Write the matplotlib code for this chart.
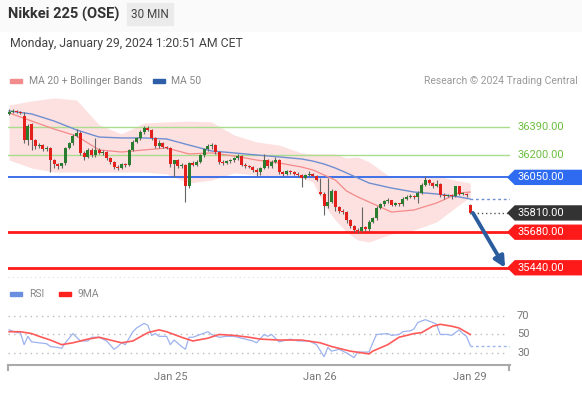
"""
Nikkei 225 (OSE) 30 min chart, Trading Central style: candles, MA/Bollinger, key levels, RSI.
"""

import matplotlib

matplotlib.use("Agg")
import matplotlib.pyplot as plt
import numpy as np
from matplotlib import transforms
from matplotlib.lines import Line2D
from matplotlib.patches import Polygon, Rectangle

plt.rcParams["font.family"] = ["Roboto", "DejaVu Sans"]

# --- data ---
opens = [36480, 36490, 36500, 36490, 36465, 36300, 36410, 36300, 36260, 36270,
         36240, 36250, 36165, 36140, 36125, 36145, 36250, 36280, 36330, 36350,
         36215, 36190, 36235, 36200, 36235, 36215, 36220, 36180, 36155, 36120,
         36115, 36140, 36135, 36235, 36290, 36315, 36355, 36385, 36370, 36315,
         36260, 36280, 36255, 36250, 36140, 36165, 36125, 36135, 35990, 36145,
         36135, 36155, 36200, 36240, 36260, 36270, 36220, 36155, 36145, 36160,
         36165, 36180, 36195, 36135, 36125, 36120, 36100, 36085, 36115, 36165,
         36125, 36155, 36165, 36085, 36075, 36095, 36085, 36075, 36065, 36045,
         36065, 36075, 36060, 35950, 35940, 35855, 35885, 35960, 35850, 35825,
         35815, 35760, 35720, 35695, 35690, 35715, 35700, 35750, 35775, 35845,
         35870, 35890, 35895, 35865, 35875, 35870, 35905, 35920, 35925, 35920,
         35945, 36000, 36030, 36010, 35990, 36005, 35930, 35925, 35930, 35925,
         35990, 35940, 35940, 35865]
highs = [36510, 36510, 36505, 36500, 36490, 36410, 36420, 36310, 36285, 36275,
         36260, 36255, 36175, 36150, 36150, 36255, 36290, 36345, 36375, 36360,
         36225, 36245, 36245, 36315, 36245, 36235, 36225, 36190, 36160, 36135,
         36150, 36150, 36240, 36300, 36325, 36370, 36395, 36395, 36375, 36325,
         36300, 36290, 36260, 36255, 36170, 36175, 36150, 36140, 36155, 36160,
         36165, 36210, 36250, 36275, 36285, 36275, 36230, 36170, 36170, 36175,
         36190, 36205, 36200, 36145, 36135, 36125, 36110, 36120, 36205, 36175,
         36165, 36185, 36175, 36095, 36100, 36100, 36095, 36085, 36070, 36075,
         36090, 36080, 36065, 36045, 35950, 36045, 35970, 35965, 35860, 35835,
         35820, 35770, 35730, 35705, 35850, 35725, 35760, 35785, 35855, 35880,
         35900, 35910, 35900, 35885, 35880, 35915, 35930, 35935, 35930, 35955,
         36010, 36060, 36040, 36020, 36030, 36010, 35945, 35940, 35935, 35995,
         35995, 35950, 35945, 35870]
lows = [36470, 36485, 36485, 36475, 36280, 36270, 36235, 36240, 36250, 36230,
        36230, 36085, 36110, 36105, 36110, 36135, 36240, 36270, 36320, 36200,
        36170, 36180, 36190, 36190, 36205, 36200, 36170, 36140, 36105, 36100,
        36105, 36120, 36125, 36225, 36280, 36305, 36345, 36360, 36300, 36250,
        36250, 36245, 36240, 36120, 36050, 36110, 36115, 35885, 35980, 36125,
        36125, 36145, 36190, 36230, 36240, 36210, 36140, 36135, 36140, 36150,
        36155, 36170, 36125, 36115, 36110, 36085, 36060, 36065, 36105, 36115,
        36115, 36145, 36070, 36060, 36065, 36075, 36065, 36055, 35985, 36040,
        36060, 36050, 36025, 35930, 35795, 35845, 35875, 35820, 35810, 35805,
        35745, 35705, 35680, 35675, 35680, 35685, 35690, 35740, 35765, 35835,
        35860, 35880, 35855, 35855, 35860, 35860, 35895, 35910, 35905, 35880,
        35935, 35990, 36000, 35980, 35985, 35920, 35905, 35915, 35905, 35915,
        35930, 35930, 35920, 35805]
closes = [36490, 36500, 36490, 36485, 36300, 36395, 36300, 36260, 36270, 36240,
          36250, 36165, 36140, 36125, 36145, 36250, 36280, 36330, 36350, 36215,
          36190, 36235, 36200, 36235, 36215, 36220, 36180, 36155, 36120, 36115,
          36140, 36135, 36235, 36290, 36315, 36355, 36385, 36370, 36315, 36260,
          36280, 36255, 36250, 36140, 36165, 36125, 36135, 35990, 36145, 36135,
          36155, 36200, 36240, 36260, 36270, 36220, 36155, 36145, 36160, 36165,
          36180, 36195, 36135, 36125, 36120, 36100, 36085, 36115, 36165, 36125,
          36155, 36165, 36085, 36075, 36095, 36085, 36075, 36065, 36045, 36065,
          36075, 36060, 36030, 35940, 35855, 35885, 35960, 35850, 35825, 35815,
          35760, 35720, 35695, 35690, 35715, 35700, 35750, 35775, 35845, 35870,
          35890, 35895, 35865, 35875, 35870, 35905, 35920, 35925, 35920, 35945,
          36000, 36030, 36010, 35990, 36005, 35930, 35925, 35930, 35925, 35990,
          35940, 35940, 35930, 35810]

band_idx = [0, 6, 12, 18, 24, 30, 36, 42, 48, 54, 60, 66, 72, 78, 81, 84, 87,
            90, 93, 96, 102, 108, 114, 120, 123]
ma50 = [36498, 36478, 36430, 36370, 36322, 36316, 36316, 36309, 36268, 36228,
        36215, 36201, 36188, 36174, 36160, 36140, 36113, 36080, 36046, 36012,
        35978, 35951, 35938, 35918, 35904]
ma20 = [36485, 36430, 36376, 36329, 36235, 36221, 36235, 36248, 36208, 36215,
        36194, 36167, 36147, 36120, 36100, 36066, 36032, 35958, 35918, 35884,
        35816, 35830, 35877, 35945, 35951]
bb_upper = [36538, 36566, 36586, 36572, 36404, 36343, 36417, 36424, 36430, 36424,
            36336, 36289, 36268, 36215, 36208, 36208, 36208, 36181, 36188, 36154,
            36046, 36052, 36059, 36026, 36012]
bb_lower = [36167, 36113, 36086, 36086, 36086, 36086, 36086, 36073, 36012, 36032,
            36080, 36066, 36052, 36046, 36019, 35864, 35762, 35681, 35627, 35614,
            35668, 35695, 35749, 35864, 35918]

rsi_idx = [0, 2, 3, 4, 5, 6, 8, 10, 11, 13, 14, 15, 17, 19, 21, 22, 24, 26, 28,
           29, 30, 31, 33, 34, 36, 37, 38, 39, 40, 42, 43, 44, 46, 47, 48, 49,
           51, 53, 54, 56, 58, 60, 62, 63, 65, 66, 68, 69, 70, 72, 73, 75, 77,
           80, 82, 84, 85, 86, 88, 90, 92, 93, 94, 96, 97, 98, 101, 102, 104,
           105, 107, 108, 109, 111, 113, 114, 115, 117, 118, 120, 121, 122, 123]
rsi = [55, 52, 52, 39, 48, 42, 41, 40, 37, 36, 35, 41, 51, 43, 43, 47, 47, 43,
       34, 37, 41, 39, 53, 57, 62, 60, 49, 51, 48, 48, 39, 44, 37, 34, 47, 47,
       50, 53, 50, 47, 48, 48, 46, 45, 43, 41, 50, 48, 50, 42, 43, 45, 43, 43,
       39, 26, 36, 32, 34, 30, 25, 31, 31, 31, 41, 50, 51, 49, 50, 53, 54, 56,
       63, 66, 63, 61, 50, 50, 49, 55, 51, 48, 38]
rsi_ma_idx = [0, 3, 6, 8, 11, 14, 17, 21, 24, 26, 30, 33, 37, 40, 42, 46, 49,
              53, 56, 60, 64, 67, 72, 78, 83, 86, 91, 96, 97, 101, 104, 108,
              110, 113, 115, 118, 120, 123]
rsi_ma = [53, 53, 51, 48, 44, 39, 41, 45, 47, 45, 41, 43, 52, 55, 53, 47, 43,
          46, 50, 49, 47, 45, 44, 44, 41, 37, 32, 29, 32, 39, 47, 51, 52, 59,
          61, 59, 57, 50]

date_ticks = [43, 83, 123]
date_labels = ["Jan 25", "Jan 26", "Jan 29"]

levels = [36390, 36200, 36050, 35810, 35680, 35440]
level_kind = ["res_g", "res_g", "res_b", "last", "sup", "sup"]

W, H = 582, 394
X_MAX = 133.6


def box(x0, y0, x1, y1):
    return [x0 / W, 1 - y1 / H, (x1 - x0) / W, (y1 - y0) / H]


def fx(px):
    return px / W


def fy(py):
    return 1 - py / H


fig = plt.figure(figsize=(W / 100, H / 100), dpi=100)
fig.patch.set_facecolor("white")

# header
fig.patches.append(Rectangle((0, fy(31)), 1, 31 / H, transform=fig.transFigure,
                             color="#fafafa", zorder=0))
fig.text(fx(8), fy(14), "Nikkei 225 (OSE)", fontsize=10.5, fontweight="bold",
         color="#333333", va="center")
fig.patches.append(Rectangle((fx(127), fy(25)), 46 / W, 22 / H,
                             transform=fig.transFigure, color="#ebebeb", zorder=1))
fig.text(fx(150), fy(14), "30 MIN", fontsize=8.5, color="#444444",
         ha="center", va="center")
fig.text(fx(10), fy(44), "Monday, January 29, 2024 1:20:51 AM CET", fontsize=8.8,
         color="#444444", va="center")

# legends
fig.patches.append(Rectangle((fx(10), fy(83)), 12 / W, 4 / H,
                             transform=fig.transFigure, color="#f28b8b"))
fig.text(fx(29), fy(81), "MA 20 + Bollinger Bands", fontsize=7.5,
         color="#888888", va="center")
fig.patches.append(Rectangle((fx(153), fy(83)), 12 / W, 4 / H,
                             transform=fig.transFigure, color="#2f5ea8"))
fig.text(fx(171), fy(81), "MA 50", fontsize=7.5, color="#888888", va="center")
fig.text(fx(578), fy(81), "Research \u00a9 2024 Trading Central", fontsize=7.5,
         color="#999999", va="center", ha="right")

fig.patches.append(Rectangle((fx(10), fy(296)), 12 / W, 4 / H,
                             transform=fig.transFigure, color="#6a8fe0"))
fig.text(fx(29), fy(294), "RSI", fontsize=7.5, color="#888888", va="center")
fig.patches.append(Rectangle((fx(59), fy(296)), 12 / W, 4 / H,
                             transform=fig.transFigure, color="#ff2020"))
fig.text(fx(78), fy(294), "9MA", fontsize=7.5, color="#888888", va="center")

# --- price panel ---
ax = fig.add_axes(box(8, 92, 510, 282))
ax.set_xlim(-0.3, X_MAX)
ax.set_ylim(35344, 36626)
ax.set_axis_off()

ax.fill_between(band_idx, bb_lower, bb_upper, color="#fde0e0", lw=0, zorder=1)
ax.axhline(35377, color="#dddddd", lw=0.8, ls=(0, (1, 3)), zorder=1)

trans = transforms.blended_transform_factory(fig.transFigure, ax.transData)
half = 47
for lvl, kind in zip(levels, level_kind):
    txt = f"{lvl:.2f}"
    if kind == "res_g":
        ax.axhline(lvl, color="#a9dc8c", lw=1, zorder=2)
        ax.text(fx(517), lvl, txt, transform=trans, fontsize=8,
                color="#6cbf3f", va="center", clip_on=False)
        continue
    if kind == "res_b":
        ax.axhline(lvl, color="#3f6fe8", lw=1.4, zorder=2)
        col = "#2f6bf0"
    elif kind == "sup":
        ax.axhline(lvl, color="#ff1a1a", lw=2, zorder=2)
        col = "#ff1a1a"
    else:
        ax.plot([len(closes) - 0.3, X_MAX - 0.3], [lvl, lvl], color="#555555",
                lw=1, ls=(0, (1, 2)), zorder=2)
        col = "#333333"
    pts = [(fx(508), lvl), (fx(515), lvl + half), (fx(582), lvl + half),
           (fx(582), lvl - half), (fx(515), lvl - half)]
    ax.add_patch(Polygon(pts, closed=True, transform=trans, color=col,
                         clip_on=False, zorder=5))
    ax.text(fx(517), lvl, txt, transform=trans, fontsize=8, color="white",
            va="center", clip_on=False, zorder=6)

ax.plot(band_idx, ma20, color="#f48a8a", lw=0.9, zorder=3)
ax.plot(band_idx, ma50, color="#6f8fd0", lw=1.0, zorder=3)
ax.plot([band_idx[-1], X_MAX], [ma50[-1], ma50[-1]], color="#6f8fd0", lw=1,
        ls=(0, (2, 2)), zorder=3)

o = np.array(opens)
c = np.array(closes)
x = np.arange(len(c))
up = c >= o
colors = np.where(up, "#2a7d2e", "#e3201b")
ax.vlines(x, lows, highs, color="#666666", lw=0.8, zorder=4)
body_h = np.maximum(np.abs(c - o), 5)
ax.bar(x, body_h, bottom=np.minimum(o, c), width=0.8, color=colors, lw=0,
       zorder=4)

ax.annotate("", xy=(len(c) + 8.3, levels[-1]), xytext=(len(c) - 0.3, closes[-1]),
            arrowprops=dict(arrowstyle="-|>", color="#2b5c9e", lw=2.8,
                            mutation_scale=16, shrinkA=0, shrinkB=0),
            annotation_clip=False, zorder=6)

# --- RSI panel ---
ax2 = fig.add_axes(box(8, 300, 510, 365))
ax2.set_xlim(-0.3, X_MAX)
ax2.set_ylim(17, 87.3)
for side in ("top", "left", "right"):
    ax2.spines[side].set_visible(False)
ax2.spines["bottom"].set_color("#aaaaaa")
ax2.spines["bottom"].set_linewidth(1.5)
ax2.set_yticks([])
ax2.set_xticks(date_ticks)
ax2.set_xticklabels(date_labels)
ax2.tick_params(axis="x", length=0, pad=5, labelsize=8, labelcolor="#777777")

trans2 = transforms.blended_transform_factory(fig.transFigure, ax2.transData)
for v in (70, 50, 30):
    ax2.plot([-0.3, X_MAX - 1], [v, v], color="#bbbbbb", lw=1, ls=(0, (1, 3)))
    ax2.text(fx(517), v, str(v), transform=trans2, fontsize=8,
             color="#777777", va="center", clip_on=False)

ax2.plot(rsi_idx, rsi, color="#9db3ef", lw=0.9)
ax2.plot([rsi_idx[-1], X_MAX], [rsi[-1], rsi[-1]], color="#9db3ef", lw=1,
         ls=(0, (2, 2)))
ax2.plot(rsi_ma_idx, rsi_ma, color="#ff5a5a", lw=1.2)

for px in (8, 509):
    fig.add_artist(Line2D([fx(px), fx(px)], [fy(365), fy(370)],
                          transform=fig.transFigure, color="#aaaaaa", lw=1.5))

fig.savefig("out.png", dpi=100)
